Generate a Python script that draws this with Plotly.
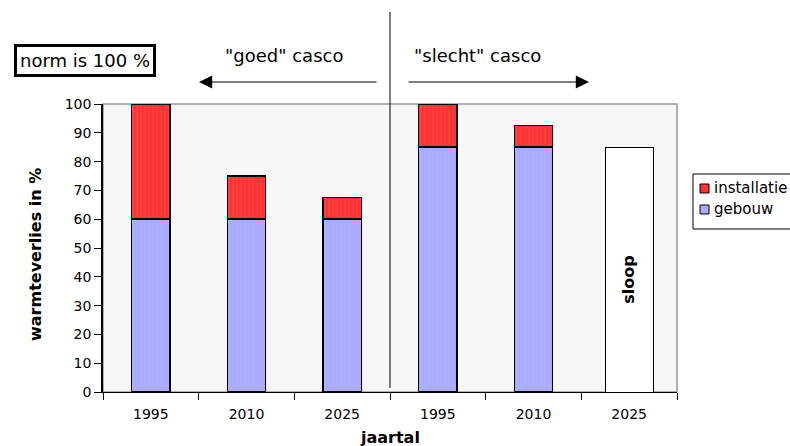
import plotly.graph_objects as go

years = ["1995", "2010", "2025", "1995", "2010", "2025"]
gebouw = [60, 60, 60, 85, 85, 0]
installatie = [40, 15, 7.5, 15, 7.5, 0]
sloop = [None, None, None, None, None, 85]

W, H = 790, 446
L, R, T, B = 103, 677, 104, 392
def px(x): return (x - L) / (R - L)
def py(y): return (B - y) / (B - T)

xs = list(range(len(years)))
FONT = "DejaVu Sans"
BLUE, RED = "#aaaaff", "#ff3333"

fig = go.Figure()
fig.add_bar(x=xs, y=gebouw, name="gebouw", width=0.4,
            marker=dict(color=BLUE, line=dict(color="black", width=1.5),
                        pattern=dict(shape="|", fgcolor="#bbbbff", size=4,
                                     solidity=0.3)))
fig.add_bar(x=xs, y=installatie, name="installatie", width=0.4,
            marker=dict(color=RED, line=dict(color="black", width=1.5),
                        pattern=dict(shape="|", fgcolor="#ff5555", size=4,
                                     solidity=0.3)))
fig.add_bar(x=xs, y=sloop, name="sloop", width=0.5,
            marker=dict(color="white", line=dict(color="black", width=1)))

fig.update_layout(
    width=W, height=H, barmode="stack", showlegend=False,
    margin=dict(l=L, r=W - R, t=T, b=H - B, autoexpand=False),
    paper_bgcolor="white", plot_bgcolor="#f7f7f7",
    font=dict(family=FONT, size=14, color="black"),
    xaxis=dict(range=[-0.5, 5.5], tickvals=xs, ticktext=years, ticks="",
               showgrid=False, zeroline=False, showline=True, linecolor="black",
               linewidth=1, ticklabelstandoff=9,
               minor=dict(tickvals=[i - 0.5 for i in range(7)], ticks="outside",
                          ticklen=7, tickcolor="black", showgrid=False)),
    yaxis=dict(range=[0, 100], dtick=10, ticks="outside", ticklen=7,
               tickcolor="black", showgrid=False, zeroline=False,
               showline=True, linecolor="black", linewidth=1.5),
)

# plot-area border (top/right grey)
fig.add_shape(type="rect", xref="paper", yref="paper", x0=0, x1=1, y0=0, y1=1,
              line=dict(color="#999999", width=1.5), layer="below")
# divider line
fig.add_shape(type="line", xref="paper", yref="paper", x0=px(390), x1=px(390),
              y0=py(12), y1=py(388), line=dict(color="black", width=1))

# manual legend
fig.add_shape(type="rect", xref="paper", yref="paper", x0=px(693), x1=px(800),
              y0=py(229), y1=py(174), line=dict(color="black", width=1),
              fillcolor="white")
fig.add_shape(type="rect", xref="paper", yref="paper", x0=px(700), x1=px(709),
              y0=py(193), y1=py(184), line=dict(color="black", width=1),
              fillcolor=RED)
fig.add_shape(type="rect", xref="paper", yref="paper", x0=px(700), x1=px(709),
              y0=py(214), y1=py(205), line=dict(color="black", width=1),
              fillcolor=BLUE)

def txt(x, y, text, size, **kw):
    d = dict(x=px(x), y=py(y), xref="paper", yref="paper", showarrow=False,
             text=text, font=dict(size=size), xanchor="center", yanchor="middle")
    d.update(kw)
    return d

ann = [
    txt(712, 188, "installatie", 15, xanchor="left"),
    txt(712, 209, "gebouw", 15, xanchor="left"),
    txt(85, 61, "norm is 100 %", 18, bordercolor="black", borderwidth=3,
        borderpad=3, bgcolor="white"),
    txt(284, 55, '"goed" casco', 18),
    txt(477, 55, '"slecht" casco', 18),
    txt(35, 255, "<b>warmteverlies in %</b>", 16, textangle=-90),
    txt(390, 437, "<b>jaartal</b>", 16),
]
ann.append(dict(x=px(199), y=py(82), xref="paper", yref="paper", showarrow=True,
                ax=179, ay=0, arrowhead=2, arrowsize=2.2, arrowwidth=1.2,
                arrowcolor="black", text=""))
ann.append(dict(x=px(589), y=py(82), xref="paper", yref="paper", showarrow=True,
                ax=-182, ay=0, arrowhead=2, arrowsize=2.2, arrowwidth=1.2,
                arrowcolor="black", text=""))
ann.append(dict(x=5, y=39, xref="x", yref="y", showarrow=False, text="<b>sloop</b>",
                textangle=-90, font=dict(size=16), xanchor="center", yanchor="middle"))
fig.update_layout(annotations=ann)

fig.write_html("out.html", config={"displayModeBar": False},
               post_script="document.body.style.margin='0';")
